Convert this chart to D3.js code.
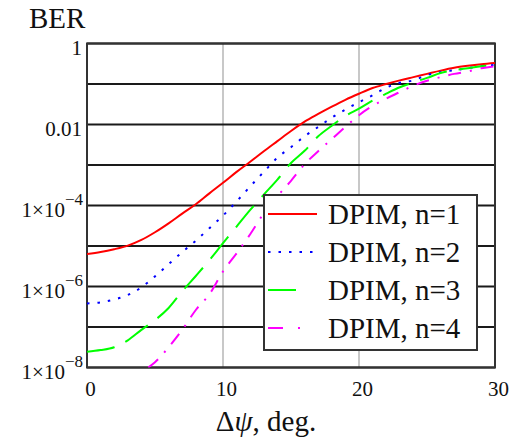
<!DOCTYPE html>
<html><head><meta charset="utf-8">
<script src="https://cdn.jsdelivr.net/npm/d3@7"></script>
<style>body{margin:0;background:#fff}svg{display:block}text{font-family:"Liberation Serif","Times New Roman",serif}</style>
</head><body>
<svg id="c" width="519" height="441"></svg>
<script>
// ---- data (log10 of BER) ----
const degrees = [0,1,2,3,4,5,6,7,8,9,10,11,12,13,14,15,16,17,18,19,20,21,22,23,24,25,26,27,28,29,30];
const berN1 = [-5.20,-5.15,-5.08,-4.99,-4.85,-4.66,-4.44,-4.20,-3.97,-3.70,-3.44,-3.17,-2.92,-2.66,-2.41,-2.16,-1.93,-1.74,-1.56,-1.39,-1.24,-1.10,-1.00,-0.91,-0.83,-0.75,-0.67,-0.60,-0.55,-0.51,-0.48];
const berN2 = [-6.42,-6.39,-6.32,-6.21,-6.02,-5.75,-5.45,-5.15,-4.87,-4.56,-4.25,-3.90,-3.53,-3.17,-2.82,-2.56,-2.29,-2.06,-1.83,-1.63,-1.45,-1.28,-1.09,-0.97,-0.91,-0.78,-0.71,-0.66,-0.61,-0.56,-0.53];
const berN3 = [-7.61,-7.57,-7.50,-7.33,-7.07,-6.83,-6.53,-6.12,-5.74,-5.35,-4.93,-4.52,-4.11,-3.73,-3.36,-2.95,-2.65,-2.29,-2.03,-1.79,-1.61,-1.41,-1.24,-1.08,-0.96,-0.85,-0.73,-0.66,-0.61,-0.56,-0.53];
const degreesN4 = [4.5,5,6,7,8,9,10,11,12,13,14,15,16,17,18,19,20,21,22,23,24,25,26,27,28,29,30];
const berN4 = [-8.00,-7.87,-7.50,-7.07,-6.58,-6.19,-5.63,-5.18,-4.71,-4.19,-3.77,-3.39,-2.98,-2.66,-2.36,-2.06,-1.77,-1.54,-1.36,-1.20,-1.04,-0.92,-0.83,-0.75,-0.69,-0.61,-0.56];
const seriesNames = ["DPIM, n=1","DPIM, n=2","DPIM, n=3","DPIM, n=4"];
const xTicks = [0,10,20,30];
const yTickExps = [0,-2,-4,-6,-8];
const yGridExps = [0,-1,-2,-3,-4,-5,-6,-7,-8];

const series = [
  {name: seriesNames[0], xs: degrees, ys: berN1, color: "#ff0000", dash: null},
  {name: seriesNames[1], xs: degrees, ys: berN2, color: "#0000ff", dash: "2.5,8"},
  {name: seriesNames[2], xs: degrees, ys: berN3, color: "#00ff00", dash: "28,12"},
  {name: seriesNames[3], xs: degreesN4, ys: berN4, color: "#ff00ff", dash: "13,9,2,9"}
];

const svg = d3.select("#c");
const x = d3.scaleLinear().domain([0,30]).range([87,495]);
const y = d3.scaleLog().domain([1e-8,1]).range([367.5,43.5]);

// vertical grid
svg.append("g").selectAll("line").data([10,20]).join("line")
  .attr("x1", d=>x(d)).attr("x2", d=>x(d)).attr("y1", y(1)).attr("y2", y(1e-8))
  .attr("stroke", "#c8c8c8").attr("stroke-width", 2);
// horizontal grid
svg.append("g").selectAll("line").data(yGridExps).join("line")
  .attr("x1", x(0)).attr("x2", x(30)).attr("y1", d=>y(Math.pow(10,d))).attr("y2", d=>y(Math.pow(10,d)))
  .attr("stroke", "#1a1a1a").attr("stroke-width", 2);
// frame
svg.append("rect").attr("x", x(0)).attr("y", y(1)).attr("width", x(30)-x(0)).attr("height", y(1e-8)-y(1))
  .attr("fill", "none").attr("stroke", "#333").attr("stroke-width", 2);

svg.append("clipPath").attr("id","clip").append("rect")
  .attr("x", x(0)).attr("y", y(1)).attr("width", x(30)-x(0)).attr("height", y(1e-8)-y(1));

const line = d3.line().curve(d3.curveMonotoneX);
const g = svg.append("g").attr("clip-path","url(#clip)");
series.forEach(s => {
  const pts = s.xs.map((d,i)=>[x(d), y(Math.pow(10, s.ys[i]))]);
  g.append("path").attr("d", line(pts)).attr("fill","none")
    .attr("stroke", s.color).attr("stroke-width", 2)
    .attr("stroke-dasharray", s.dash);
});

// x tick labels
svg.append("g").selectAll("text").data(xTicks).join("text")
  .attr("x", d=>x(d)+3.5).attr("y", 396).attr("text-anchor","middle")
  .attr("font-size", 21).attr("fill","#111").text(d=>d);

// y tick labels
const yl = svg.append("g");
yTickExps.forEach(e => {
  const yy = y(Math.pow(10,e)) + 11.5;
  if (e === 0) {
    yl.append("text").attr("x", 82).attr("y", yy).attr("text-anchor","end").attr("font-size",21).attr("fill","#111").text("1");
  } else if (e === -2) {
    yl.append("text").attr("x", 82).attr("y", yy).attr("text-anchor","end").attr("font-size",21).attr("fill","#111").text("0.01");
  } else {
    const t = yl.append("text").attr("x", 83).attr("y", yy).attr("text-anchor","end").attr("font-size",21).attr("fill","#111");
    t.append("tspan").text("1×10");
    t.append("tspan").attr("dy", -12).attr("font-size", 17).text("−" + (-e));
  }
});

// titles
svg.append("text").attr("x", 29).attr("y", 28).attr("font-size", 29).attr("fill","#111").text("BER");
const xt = svg.append("text").attr("x", 266).attr("y", 431).attr("text-anchor","middle").attr("font-size", 29).attr("fill","#111");
xt.append("tspan").text("Δ");
xt.append("tspan").attr("font-style","italic").text("ψ");
xt.append("tspan").text(", deg.");

// legend
const lg = svg.append("g");
lg.append("rect").attr("x", 264).attr("y", 195).attr("width", 213).attr("height", 155)
  .attr("fill","#fff").attr("stroke","#333").attr("stroke-width",2);
const legendLen = [49, 49, 32, 49];
series.forEach((s,i) => {
  const cy = 214 + i*38;
  lg.append("line").attr("x1", 268).attr("x2", 268 + legendLen[i]).attr("y1", cy).attr("y2", cy)
    .attr("stroke", s.color).attr("stroke-width", 2).attr("stroke-dasharray", i===3 ? "15,15,2,20" : s.dash);
  lg.append("text").attr("x", 328).attr("y", cy + 9.5).attr("font-size", 29).attr("fill","#111").text(s.name);
});
</script>
</body></html>
